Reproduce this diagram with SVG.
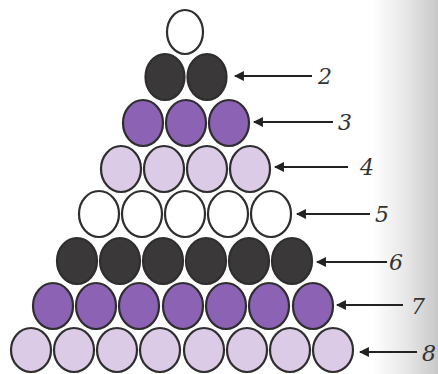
<svg xmlns="http://www.w3.org/2000/svg" width="438" height="374" viewBox="0 0 438 374">
<defs>
<linearGradient id="bg" x1="0" y1="0" x2="1" y2="0">
<stop offset="0" stop-color="#ffffff"/>
<stop offset="0.85" stop-color="#ffffff"/>
<stop offset="0.93" stop-color="#e6e6e6"/>
<stop offset="1" stop-color="#c8c8c8"/>
</linearGradient>
<marker id="ah" viewBox="0 0 10 10" refX="9" refY="5" markerWidth="5" markerHeight="4.5" orient="auto-start-reverse" markerUnits="strokeWidth">
<path d="M0,0 L10,5 L0,10 Z" fill="#222"/>
</marker>
<style>
.c{stroke:#2e2e2e;stroke-width:2.2}
.w{fill:#ffffff}
.d{fill:#3a3838}
.p{fill:#8c62b4}
.l{fill:#dccbe6}
.a{stroke:#222;stroke-width:2.2;fill:none;marker-start:url(#ah)}
.t{font-family:"DejaVu Serif","Liberation Serif",serif;font-style:italic;font-size:22px;fill:#333}
</style>
</defs>
<rect width="438" height="374" fill="url(#bg)"/>
<g id="row1">
<ellipse class="c w" cx="185" cy="32" rx="18" ry="22"/>
</g>
<g id="row2">
<ellipse class="c d" cx="165" cy="77" rx="19.5" ry="23"/>
<ellipse class="c d" cx="207" cy="77" rx="19.5" ry="23"/>
</g>
<g id="row3">
<ellipse class="c p" cx="143" cy="123" rx="20" ry="23"/>
<ellipse class="c p" cx="186" cy="123" rx="20" ry="23"/>
<ellipse class="c p" cx="229" cy="123" rx="20" ry="23"/>
</g>
<g id="row4">
<ellipse class="c l" cx="121" cy="169" rx="20" ry="23"/>
<ellipse class="c l" cx="164" cy="169" rx="20" ry="23"/>
<ellipse class="c l" cx="207" cy="169" rx="20" ry="23"/>
<ellipse class="c l" cx="250" cy="169" rx="20" ry="23"/>
</g>
<g id="row5">
<ellipse class="c w" cx="99" cy="214" rx="20" ry="23"/>
<ellipse class="c w" cx="142" cy="214" rx="20" ry="23"/>
<ellipse class="c w" cx="185" cy="214" rx="20" ry="23"/>
<ellipse class="c w" cx="228" cy="214" rx="20" ry="23"/>
<ellipse class="c w" cx="271" cy="214" rx="20" ry="23"/>
</g>
<g id="row6">
<ellipse class="c d" cx="77" cy="261" rx="20" ry="23"/>
<ellipse class="c d" cx="120" cy="261" rx="20" ry="23"/>
<ellipse class="c d" cx="163" cy="261" rx="20" ry="23"/>
<ellipse class="c d" cx="206" cy="261" rx="20" ry="23"/>
<ellipse class="c d" cx="249" cy="261" rx="20" ry="23"/>
<ellipse class="c d" cx="292" cy="261" rx="20" ry="23"/>
</g>
<g id="row7">
<ellipse class="c p" cx="53" cy="306" rx="20" ry="23"/>
<ellipse class="c p" cx="96" cy="306" rx="20" ry="23"/>
<ellipse class="c p" cx="139" cy="306" rx="20" ry="23"/>
<ellipse class="c p" cx="183" cy="306" rx="20" ry="23"/>
<ellipse class="c p" cx="226" cy="306" rx="20" ry="23"/>
<ellipse class="c p" cx="269" cy="306" rx="20" ry="23"/>
<ellipse class="c p" cx="313" cy="306" rx="20" ry="23"/>
</g>
<g id="row8">
<ellipse class="c l" cx="31" cy="350" rx="20" ry="22"/>
<ellipse class="c l" cx="74" cy="350" rx="20" ry="22"/>
<ellipse class="c l" cx="117" cy="350" rx="20" ry="22"/>
<ellipse class="c l" cx="160" cy="350" rx="20" ry="22"/>
<ellipse class="c l" cx="204" cy="350" rx="20" ry="22"/>
<ellipse class="c l" cx="247" cy="350" rx="20" ry="22"/>
<ellipse class="c l" cx="290" cy="350" rx="20" ry="22"/>
<ellipse class="c l" cx="333" cy="350" rx="20" ry="22"/>
</g>
<g id="connectors">
<line class="a" x1="235" y1="76" x2="312" y2="76"/>
<line class="a" x1="254" y1="122" x2="333" y2="122"/>
<line class="a" x1="275" y1="167" x2="348" y2="167"/>
<line class="a" x1="297" y1="214" x2="370" y2="214"/>
<line class="a" x1="317" y1="262" x2="387" y2="262"/>
<line class="a" x1="337" y1="305" x2="403" y2="305"/>
<line class="a" x1="360" y1="352" x2="417" y2="352"/>
</g>
<g id="labels">
<text class="t" x="318" y="84">2</text>
<text class="t" x="338" y="130">3</text>
<text class="t" x="360" y="175">4</text>
<text class="t" x="375" y="222">5</text>
<text class="t" x="389" y="270">6</text>
<text class="t" x="411" y="314">7</text>
<text class="t" x="422" y="361">8</text>
</g>
</svg>
